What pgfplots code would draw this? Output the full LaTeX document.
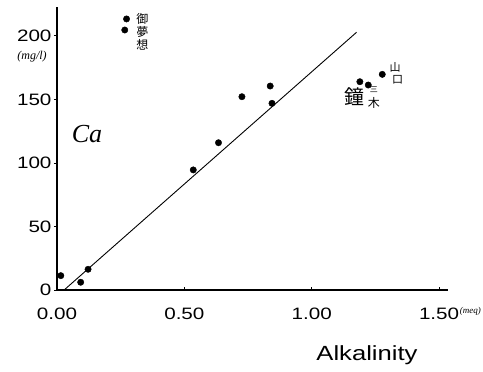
\documentclass[border=0pt]{standalone}
\usepackage{fontspec}
\setmainfont{Liberation Sans}[FakeStretch=1.25]
\newfontfamily\hand{Liberation Serif}
\newfontfamily\jp{Noto Sans CJK JP}
\usepackage{pgfplots}
\pgfplotsset{compat=1.18}
\begin{document}
\begin{tikzpicture}
\begin{axis}[
  name=ax,
  scale only axis,
  width=391pt, height=283pt,
  xmin=0, xmax=1.535, ymin=0, ymax=222.7,
  axis lines=left,
  axis line style={-, line width=1.1pt},
  xtick={0,0.5,1,1.5},
  xticklabels={0.00,0.50,1.00,1.50},
  ytick={0,50,100,150,200},
  xtick align=inside, ytick align=outside,
  major tick length=3pt,
  tick style={line width=0.8pt, black},
  /pgf/number format/assume math mode=true,
  ticklabel style={font=\fontsize{16.5}{16.5}\selectfont},
  xticklabel style={yshift=-14pt},
  yticklabel style={xshift=1pt},
  clip=false,
]
\addplot[only marks, mark=*, mark size=3.2pt, black] coordinates {
(0.015,11.3) (0.093,6.1) (0.122,16.3)
(0.266,204.6) (0.273,213.3)
(0.535,94.5) (0.634,115.9) (0.726,152.1)
(0.837,160.5) (0.844,146.9)
(1.189,163.9) (1.222,161.3) (1.277,169.7)
};
\addplot[black, line width=0.9pt] coordinates {(0.028,0) (1.176,202.8)};
\coordinate (O) at (rel axis cs:0,0);
\node[font=\jp\fontsize{12}{13}\selectfont, align=center] at (axis cs:0.335,203) {御\\夢\\想};
\node[font=\jp\fontsize{20}{20}\selectfont] at (axis cs:1.169,151.9) {鐘};
\node[font=\jp\fontsize{8}{8}\selectfont, inner sep=0pt] at (axis cs:1.244,158) {三};
\node[font=\jp\fontsize{12}{12}\selectfont, inner sep=0pt] at (axis cs:1.244,147) {木};
\node[font=\jp\fontsize{11}{11}\selectfont, inner sep=0pt] at (axis cs:1.327,175) {山};
\node[font=\jp\fontsize{11}{11}\selectfont, inner sep=0pt] at (axis cs:1.337,165.5) {口};
\node[font=\hand\itshape\fontsize{26}{26}\selectfont, inner sep=0pt] at (axis cs:0.118,122.8) {Ca};
\node[font=\hand\itshape\fontsize{12}{12}\selectfont, inner sep=0pt] at (axis cs:-0.098,183.3) {(mg/l)};
\node[font=\hand\itshape\fontsize{9}{9}\selectfont, inner sep=0pt, anchor=east] at (axis cs:1.665,-17) {(meq)};
\node[font=\fontsize{20.5}{20.5}\selectfont, inner sep=0pt] at (axis cs:1.217,0) [yshift=-65pt] {Alkalinity};
\end{axis}
\pgfresetboundingbox
\path (O) ++(-57pt,-82pt) rectangle ++(483pt,372pt);
\end{tikzpicture}
\end{document}
